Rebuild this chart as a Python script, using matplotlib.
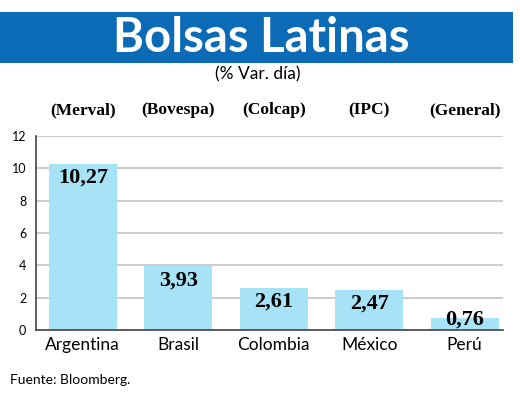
import matplotlib
matplotlib.use("Agg")
import matplotlib.pyplot as plt
from matplotlib.patches import Rectangle
from matplotlib.transforms import blended_transform_factory

paises = ["Argentina", "Brasil", "Colombia", "México", "Perú"]
indices = ["(Merval)", "(Bovespa)", "(Colcap)", "(IPC)", "(General)"]
variacion = [10.27, 3.93, 2.61, 2.47, 0.76]
etiquetas = ["10,27", "3,93", "2,61", "2,47", "0,76"]
yticks = [0, 2, 4, 6, 8, 10, 12]

fig = plt.figure(figsize=(5.2, 4.04), dpi=100)

# banner
fig.patches.append(Rectangle((0, 0.844), 0.987, 0.126, transform=fig.transFigure,
                             facecolor="#0b6bb6", edgecolor="none", zorder=0))
fig.text(0.502, 0.907, "Bolsas Latinas", color="white", fontsize=34, fontweight="bold",
         family="Lato", ha="center", va="center")
fig.text(0.495, 0.815, "(% Var. día)", fontsize=12.5, family="Lato", ha="center", va="center")

ax = fig.add_axes([0.0692, 0.1832, 0.8978, 0.4802])
x = range(len(paises))
ax.bar(x, variacion, width=0.71, color="#a8e2f7", zorder=2)
ax.set_xlim(-0.49, 4.4)
ax.set_ylim(0, 12)
ax.set_yticks(yticks)
ax.yaxis.grid(True, color="#c8c8c8", lw=1.3, zorder=0)
ax.set_axisbelow(True)
for s in ["top", "right"]:
    ax.spines[s].set_visible(False)
ax.spines["left"].set_color("#444444")
ax.spines["bottom"].set_color("#444444")
ax.spines["left"].set_linewidth(1.2)
ax.spines["bottom"].set_linewidth(1.2)
ax.tick_params(axis="y", length=0, pad=7, labelsize=9)
ax.tick_params(axis="x", length=0, pad=5, labelsize=12.5)
ax.set_xticks(list(x))
ax.set_xticklabels(paises, family="Lato")
for t in ax.get_yticklabels():
    t.set_family("Lato")

for i, v in enumerate(variacion):
    ax.text(i, max(v - 0.86, 0.62), etiquetas[i], ha="center", va="center",
            fontsize=16, fontweight="bold", family="Liberation Serif", zorder=3)

tr = blended_transform_factory(ax.transData, ax.transAxes)
for i, nombre in enumerate(indices):
    ax.text(i, 1.134, nombre, transform=tr, ha="center", va="center",
            fontsize=12.5, fontweight="bold", family="Liberation Serif")

fig.text(0.019, 0.06, "Fuente: Bloomberg.", fontsize=10, family="Lato", ha="left", va="center")

fig.savefig("out.png", dpi=100)
